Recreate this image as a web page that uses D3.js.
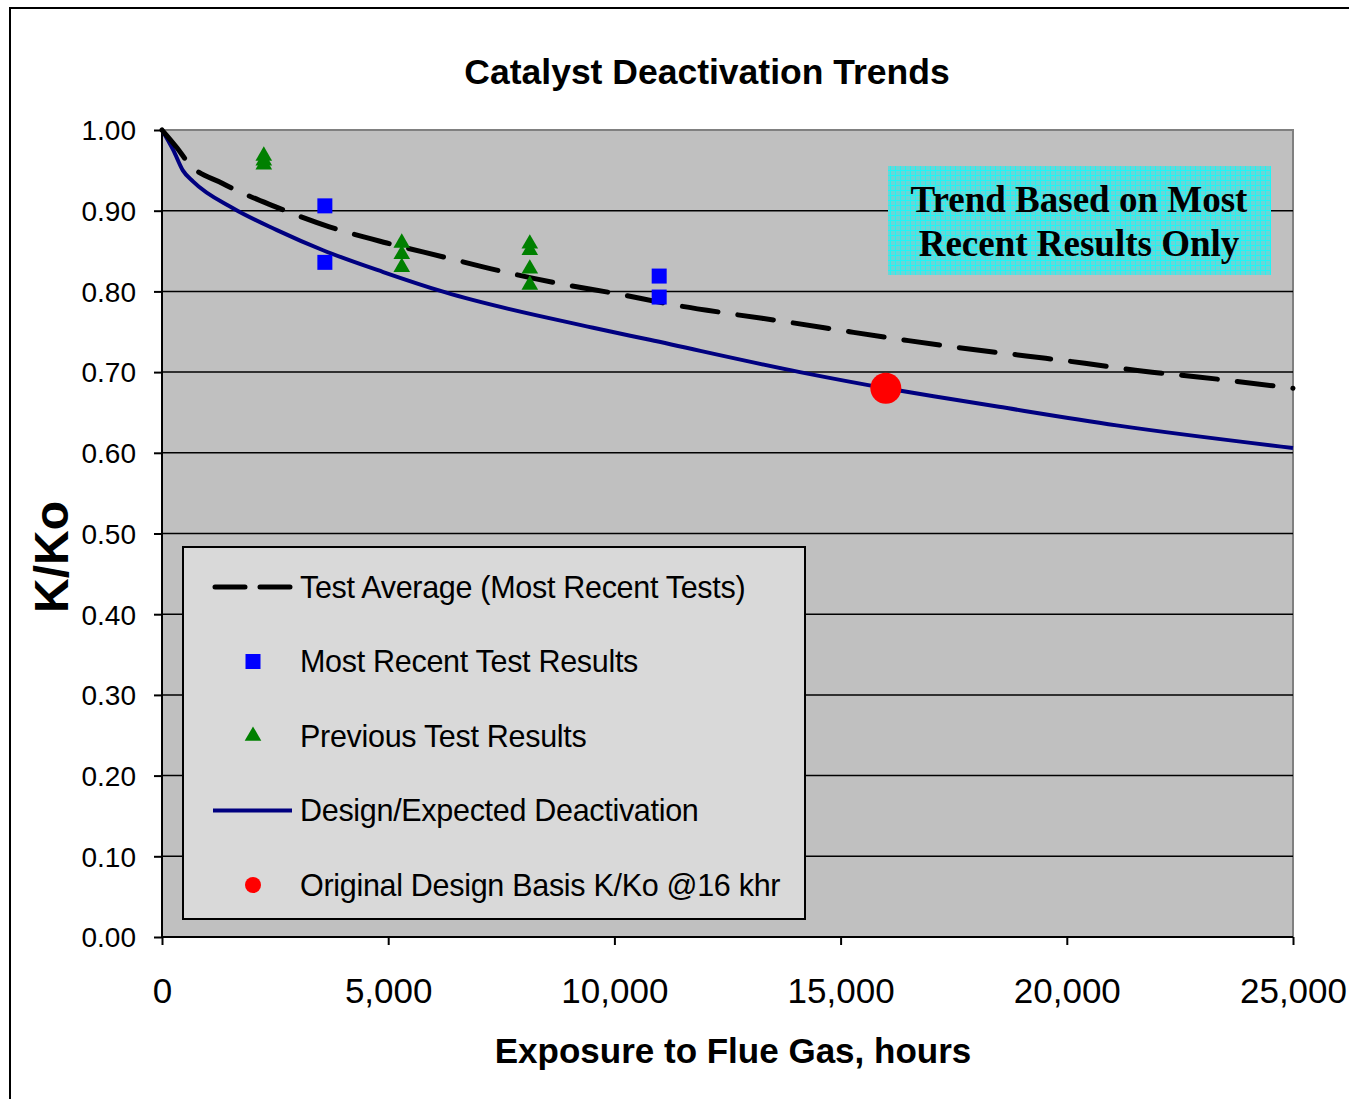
<!DOCTYPE html>
<html>
<head>
<meta charset="utf-8">
<script src="https://cdn.jsdelivr.net/npm/d3@7"></script>
<style>
  body { margin: 0; background: #fff; }
  svg { display: block; font-family: "Liberation Sans", Arial, sans-serif; }
</style>
</head>
<body>
<div id="chart"></div>
<script>
// values (hours, K/Ko)
const designCurve = [
  [0, 1.0], [250, 0.975], [460, 0.95], [690, 0.936], [1570, 0.903],
  [2540, 0.876], [3560, 0.851], [4890, 0.824], [6250, 0.799], [9530, 0.755],
  [10780, 0.74], [14100, 0.7], [16000, 0.68], [17400, 0.667], [18500, 0.657],
  [21100, 0.634], [25000, 0.606]
];
const testAverage = [
  [0, 1.0], [330, 0.978], [600, 0.958], [1330, 0.934], [2500, 0.905],
  [3700, 0.88], [4970, 0.86], [6200, 0.843], [7500, 0.825], [8750, 0.81],
  [10060, 0.797], [11340, 0.783], [12600, 0.772], [13950, 0.761], [15200, 0.75],
  [16500, 0.739], [17800, 0.729], [19100, 0.72], [20400, 0.711], [21700, 0.701],
  [22900, 0.694], [25000, 0.68]
];
const recentResults = [[3600, 0.906], [3600, 0.836], [10990, 0.819], [10990, 0.793]];
const previousResults = [
  [2250, 0.968], [2250, 0.962], [2250, 0.957],
  [5300, 0.86], [5300, 0.846], [5300, 0.83],
  [8130, 0.859], [8130, 0.851], [8130, 0.828], [8130, 0.808]
];
const designBasis = [[16000, 0.68]];
const xTicks = [0, 5000, 10000, 15000, 20000, 25000];
const yTicks = [0, 0.1, 0.2, 0.3, 0.4, 0.5, 0.6, 0.7, 0.8, 0.9, 1.0];
const legendItems = [
  { label: "Test Average (Most Recent Tests)", kind: "dash" },
  { label: "Most Recent Test Results", kind: "square" },
  { label: "Previous Test Results", kind: "triangle" },
  { label: "Design/Expected Deactivation", kind: "line" },
  { label: "Original Design Basis K/Ko @16 khr", kind: "circle" }
];

const width = 1349, height = 1099;
const plot = { left: 162, right: 1293, top: 130, bottom: 937 };

const svg = d3.select("#chart").append("svg")
  .attr("width", width).attr("height", height);

// outer chart frame (clipped on right and bottom in the reference)
svg.append("path")
  .attr("d", `M10,${height + 5}V8H${width + 5}`)
  .attr("fill", "none").attr("stroke", "#000").attr("stroke-width", 2);

const x = d3.scaleLinear().domain([0, 25000]).range([plot.left, plot.right]);
const y = d3.scaleLinear().domain([0, 1]).range([plot.bottom, plot.top]);

// plot area
svg.append("rect")
  .attr("x", plot.left).attr("y", plot.top)
  .attr("width", plot.right - plot.left).attr("height", plot.bottom - plot.top)
  .attr("fill", "#c0c0c0").attr("stroke", "#808080").attr("stroke-width", 2);

// gridlines
svg.append("g").selectAll("line")
  .data(yTicks.filter(d => d > 0 && d < 1))
  .join("line")
  .attr("x1", plot.left).attr("x2", plot.right)
  .attr("y1", d => y(d)).attr("y2", d => y(d))
  .attr("stroke", "#000").attr("stroke-width", 1.5);

// axes
const yAxis = svg.append("g")
  .attr("transform", `translate(${plot.left},0)`)
  .call(d3.axisLeft(y).tickValues(yTicks).tickFormat(d3.format(".2f")).tickSize(8).tickPadding(18));
const xAxis = svg.append("g")
  .attr("transform", `translate(0,${plot.bottom})`)
  .call(d3.axisBottom(x).tickValues(xTicks).tickFormat(d3.format(",")).tickSize(8).tickPadding(33));
[yAxis, xAxis].forEach(g => {
  g.select(".domain").attr("stroke", "#000").attr("stroke-width", 2);
  g.selectAll(".tick line").attr("stroke", "#000").attr("stroke-width", 2);
  g.selectAll("text").attr("fill", "#000").attr("font-family", "Liberation Sans, Arial, sans-serif");
});
yAxis.selectAll("text").attr("font-size", 28).attr("dy", "0.35em");
xAxis.selectAll("text").attr("font-size", 35).attr("dy", "0.71em");
xAxis.select(".domain").attr("d", `M${plot.left},0H${plot.right}`);
yAxis.select(".domain").attr("d", `M0,${plot.bottom}V${plot.top}`);

// annotation box
const defs = svg.append("defs");
const pat = defs.append("pattern").attr("id", "cyanGrid")
  .attr("width", 5).attr("height", 5).attr("patternUnits", "userSpaceOnUse");
pat.append("rect").attr("width", 5).attr("height", 5).attr("fill", "#6ad6d6");
pat.append("path").attr("d", "M0,0.5H5M0.5,0V5").attr("stroke", "#1ef5f5").attr("stroke-width", 1);

svg.append("rect")
  .attr("x", 888).attr("y", 166).attr("width", 383).attr("height", 109)
  .attr("fill", "url(#cyanGrid)");
svg.append("text")
  .attr("x", 1079).attr("text-anchor", "middle")
  .attr("font-family", "Liberation Serif, Times New Roman, serif")
  .attr("font-weight", "bold").attr("font-size", 37)
  .selectAll("tspan")
  .data(["Trend Based on Most", "Recent Results Only"])
  .join("tspan")
  .attr("x", 1079).attr("y", (d, i) => 212 + i * 44)
  .text(d => d);

// lines
const line = d3.line().x(d => x(d[0])).y(d => y(d[1])).curve(d3.curveMonotoneX);

svg.append("path").datum(designCurve)
  .attr("d", line).attr("fill", "none")
  .attr("stroke", "#000080").attr("stroke-width", 4);

svg.append("path").datum(testAverage)
  .attr("d", line).attr("fill", "none")
  .attr("stroke", "#000").attr("stroke-width", 5)
  .attr("stroke-dasharray", "36,20").attr("stroke-linecap", "round");

// markers
const square = d3.symbol().type(d3.symbolSquare).size(225);
const triangle = d3.symbol().type(d3.symbolTriangle).size(120);

svg.append("g").selectAll("path")
  .data(previousResults).join("path")
  .attr("transform", d => `translate(${x(d[0])},${y(d[1])})`)
  .attr("d", triangle).attr("fill", "#008000");

svg.append("g").selectAll("path")
  .data(recentResults).join("path")
  .attr("transform", d => `translate(${x(d[0])},${y(d[1])})`)
  .attr("d", square).attr("fill", "#0000ff");

svg.append("g").selectAll("circle")
  .data(designBasis).join("circle")
  .attr("cx", d => x(d[0])).attr("cy", d => y(d[1])).attr("r", 15.5)
  .attr("fill", "#ff0000");

// legend
const legend = svg.append("g");
legend.append("rect")
  .attr("x", 183).attr("y", 547).attr("width", 622).attr("height", 372)
  .attr("fill", "#d9d9d9").attr("stroke", "#000").attr("stroke-width", 2);

const item = legend.selectAll("g.item")
  .data(legendItems).join("g").attr("class", "item")
  .attr("transform", (d, i) => `translate(0,${587 + i * 74.5})`);

item.each(function (d) {
  const g = d3.select(this);
  if (d.kind === "dash") {
    g.append("path").attr("d", "M215,0H290").attr("stroke", "#000").attr("stroke-width", 5)
      .attr("stroke-dasharray", "30,15").attr("stroke-linecap", "round");
  } else if (d.kind === "line") {
    g.append("path").attr("d", "M213,0H292").attr("stroke", "#000080").attr("stroke-width", 4);
  } else if (d.kind === "square") {
    g.append("path").attr("transform", "translate(253,0)").attr("d", square).attr("fill", "#0000ff");
  } else if (d.kind === "triangle") {
    g.append("path").attr("transform", "translate(253,0)").attr("d", triangle).attr("fill", "#008000");
  } else {
    g.append("circle").attr("cx", 253).attr("cy", 0).attr("r", 8).attr("fill", "#ff0000");
  }
});

item.append("text")
  .attr("x", 300).attr("dy", "0.35em")
  .attr("font-size", 30.5).attr("letter-spacing", -0.3)
  .text(d => d.label);

// titles
svg.append("text")
  .attr("x", 707).attr("y", 84).attr("text-anchor", "middle")
  .attr("font-weight", "bold").attr("font-size", 35.5)
  .text("Catalyst Deactivation Trends");

svg.append("text")
  .attr("x", 733).attr("y", 1063).attr("text-anchor", "middle")
  .attr("font-weight", "bold").attr("font-size", 35)
  .text("Exposure to Flue Gas, hours");

svg.append("text")
  .attr("transform", "translate(68,557) rotate(-90)")
  .attr("text-anchor", "middle")
  .attr("font-weight", "bold").attr("font-size", 48)
  .text("K/Ko");
</script>
</body>
</html>
